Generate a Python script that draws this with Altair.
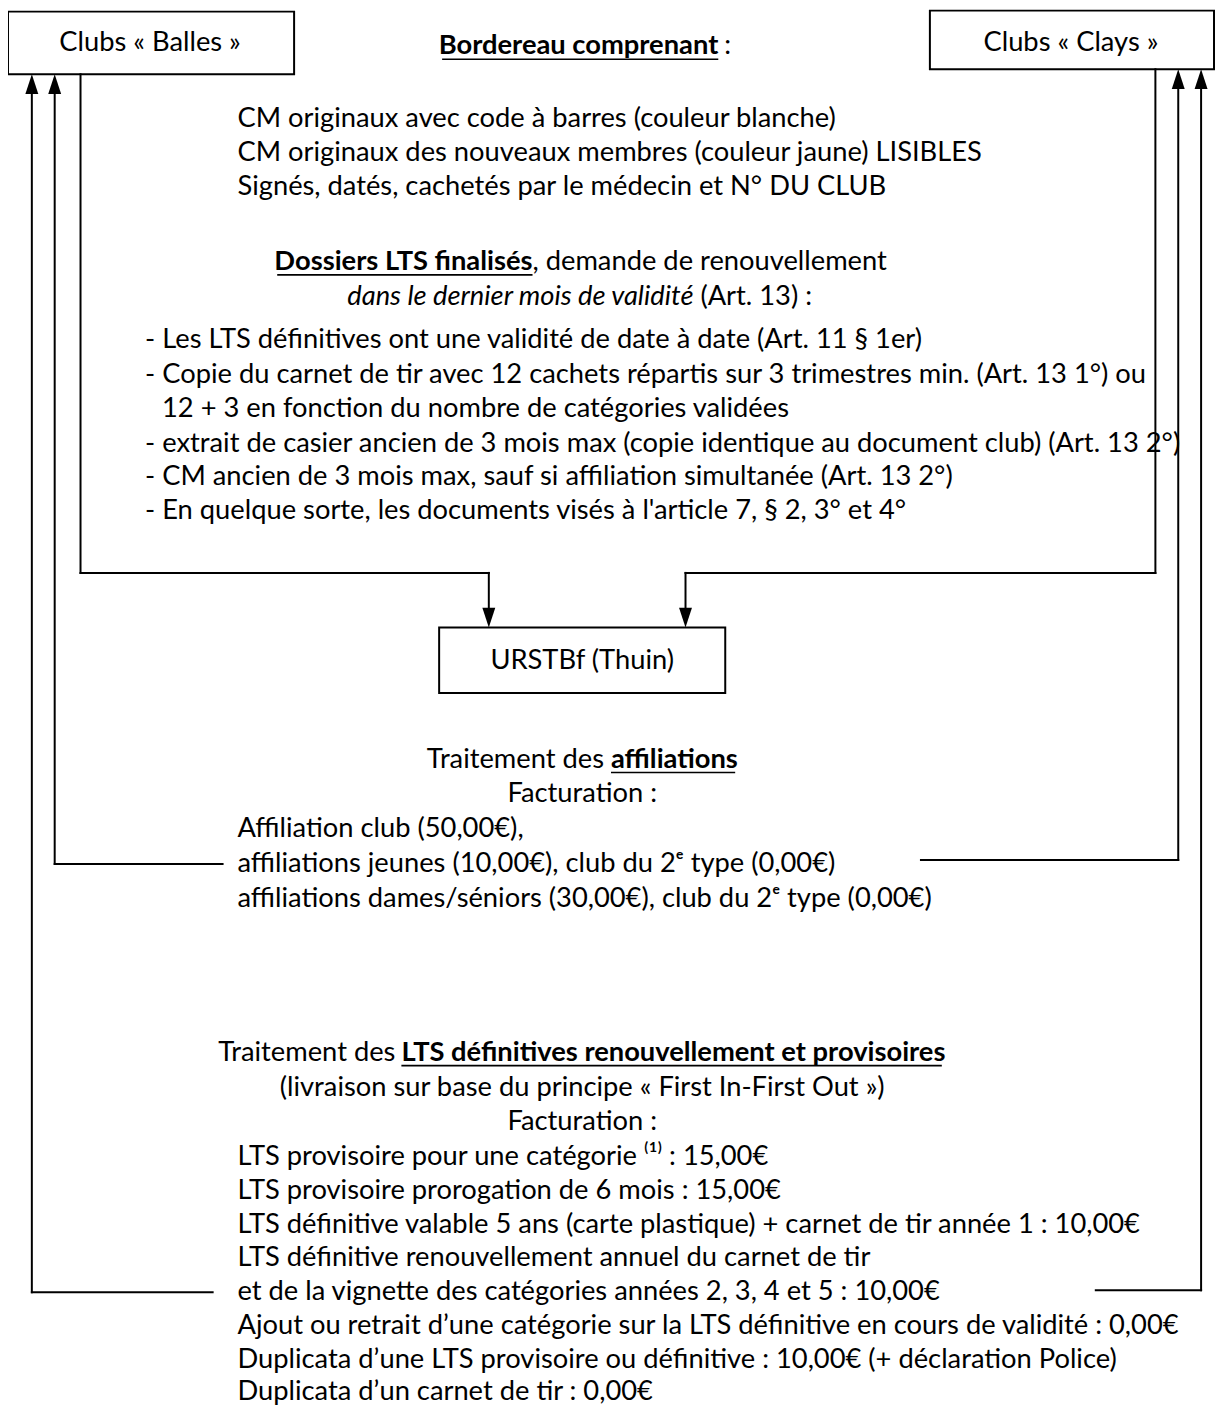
import altair as alt
import pandas as pd

FONT = "Lato"
FS = 27.5

# ---------------- content ----------------
BOX_LABELS = ["Clubs « Balles »", "Clubs « Clays »", "URSTBf (Thuin)"]
BORDEREAU_TITLE = ["Bordereau comprenant", ":"]
CM_LINES = [
    "CM originaux avec code à barres (couleur blanche)",
    "CM originaux des nouveaux membres (couleur jaune) LISIBLES",
    "Signés, datés, cachetés par le médecin et N° DU CLUB",
]
DOSSIERS_TITLE = ["Dossiers LTS finalisés", ", demande de renouvellement"]
DOSSIERS_SUB = ["dans le dernier mois de validité", "(Art. 13) :"]
BULLETS = [
    "- Les LTS définitives ont une validité de date à date (Art. 11 § 1er)",
    "- Copie du carnet de tir avec 12 cachets répartis sur 3 trimestres min. (Art. 13 1°) ou",
    "12 + 3 en fonction du nombre de catégories validées",
    "- extrait de casier ancien de 3 mois max (copie identique au document club) (Art. 13 2°)",
    "- CM ancien de 3 mois max, sauf si affiliation simultanée (Art. 13 2°)",
    "- En quelque sorte, les documents visés à l'article 7, § 2, 3° et 4°",
]
AFF_TITLE = ["Traitement des", "affiliations"]
FACT = "Facturation :"
AFF_LINES = [
    "Affiliation club (50,00€),",
    "affiliations jeunes (10,00€), club du 2ᵉ type (0,00€)",
    "affiliations dames/séniors (30,00€), club du 2ᵉ type (0,00€)",
]
LTS_TITLE = ["Traitement des", "LTS définitives renouvellement et provisoires"]
LTS_SUB = "(livraison sur base du principe « First In-First Out »)"
LTS_LINES = [
    "LTS provisoire pour une catégorie ⁽¹⁾ : 15,00€",
    "LTS provisoire prorogation de 6 mois : 15,00€",
    "LTS définitive valable 5 ans (carte plastique) + carnet de tir année 1 : 10,00€",
    "LTS définitive renouvellement annuel du carnet de tir",
    "et de la vignette des catégories années 2, 3, 4 et 5 : 10,00€",
    "Ajout ou retrait d’une catégorie sur la LTS définitive en cours de validité : 0,00€",
    "Duplicata d’une LTS provisoire ou définitive : 10,00€ (+ déclaration Police)",
    "Duplicata d’un carnet de tir : 0,00€",
]

# ---------------- layout (page pixel coordinates) ----------------
BOX_X0 = [8, 936, 442]
BOX_X1 = [296, 1222, 730]
BOX_Y0 = [7, 6, 627]
BOX_Y1 = [70, 65, 693]
BOX_TX = [151, 1078, 586]
BOX_TY = [47, 47, 669]

CX = 586          # centre of centred lines
LEFT_X = 239      # left indent of listed lines
BULLET_X = 146
CM_Y = [123, 157.5, 192]
BULLET_XS = [BULLET_X, BULLET_X, BULLET_X + 17, BULLET_X, BULLET_X, BULLET_X]
BULLET_Y = [346, 381, 415, 450, 484, 518]
AFF_Y = [838, 873, 908]
LTS_Y = [1168, 1202, 1236, 1270, 1304, 1338, 1372, 1405]

# connector segments: x, y, x2, y2
SEG = [
    (32, 1296, 32, 80), (32, 1296, 214, 1296),
    (55, 865, 55, 80), (55, 865, 224, 865),
    (81, 70, 81, 572), (81, 572, 492, 572), (492, 572, 492, 615),
    (1163, 65, 1163, 572), (1163, 572, 690, 572), (690, 572, 690, 615),
    (1186, 861, 1186, 75), (927, 861, 1186, 861),
    (1209, 1294, 1209, 75), (1103, 1294, 1209, 1294),
]
# arrowheads: x, tip y, direction
ARROWS = [(32, 70, "up"), (55, 70, "up"), (1186, 65, "up"), (1209, 65, "up"),
          (492, 627, "down"), (690, 627, "down")]

# underlines under bold headings: x, x2, y
UNDER = [(445, 723, 55), (279, 536, 272), (615, 740, 773), (404, 948, 1068)]

# ---------------- scales ----------------
W, H = 1215, 1402
xs = alt.Scale(domain=[8, 8 + W], nice=False, zero=False)
ys = alt.Scale(domain=[8, 8 + H], nice=False, zero=False, reverse=True)


def X(f):
    return alt.X(f, type="quantitative", scale=xs, axis=None)


def Y(f):
    return alt.Y(f, type="quantitative", scale=ys, axis=None)


layers = []

# boxes
boxes = pd.DataFrame({"x": BOX_X0, "x2": BOX_X1, "y": BOX_Y0, "y2": BOX_Y1})
layers.append(alt.Chart(boxes).mark_rect(fill="white", stroke="black", strokeWidth=2).encode(
    x=X("x"), x2="x2", y=Y("y"), y2="y2"))

# connectors
seg = pd.DataFrame(SEG, columns=["x", "y", "x2", "y2"])
layers.append(alt.Chart(seg).mark_rule(color="black", strokeWidth=2, strokeCap="square").encode(
    x=X("x"), x2="x2", y=Y("y"), y2="y2"))

# arrowheads
arr = pd.DataFrame(ARROWS, columns=["x", "tip", "dir"])
arr["yc"] = [t + 10 if d == "up" else t - 10 for t, d in zip(arr["tip"], arr["dir"])]
UP = "M0,-1L0.65,1L-0.65,1Z"
DOWN = "M0,1L0.65,-1L-0.65,-1Z"
for d, shp in (("up", UP), ("down", DOWN)):
    layers.append(alt.Chart(arr[arr["dir"] == d]).mark_point(
        shape=shp, filled=True, size=400, opacity=1, color="black", strokeWidth=0).encode(
        x=X("x"), y=Y("yc")))

# underlines
und = pd.DataFrame(UNDER, columns=["x", "x2", "y"])
layers.append(alt.Chart(und).mark_rule(color="black", strokeWidth=1.6).encode(
    x=X("x"), x2="x2", y=Y("y")))

# text
rows = []


def add(t, x, y, weight="normal", style="normal", align="left"):
    rows.append(dict(t=t, x=x, y=y, w=weight, s=style, a=align))


for lab, tx, ty in zip(BOX_LABELS, BOX_TX, BOX_TY):
    add(lab, tx, ty, align="center")
add(BORDEREAU_TITLE[0], 723, 50, weight="bold", align="right")
add(BORDEREAU_TITLE[1], 729, 50)
for t, y in zip(CM_LINES, CM_Y):
    add(t, LEFT_X, y)
add(DOSSIERS_TITLE[0], 536, 267, weight="bold", align="right")
add(DOSSIERS_TITLE[1], 536, 267)
add(DOSSIERS_SUB[0], 698, 302, style="italic", align="right")
add(DOSSIERS_SUB[1], 705, 302)
for t, x, y in zip(BULLETS, BULLET_XS, BULLET_Y):
    add(t, x, y)
add(AFF_TITLE[0], 608, 768, align="right")
add(AFF_TITLE[1], 615, 768, weight="bold")
add(FACT, CX, 803, align="center")
for t, y in zip(AFF_LINES, AFF_Y):
    add(t, LEFT_X, y)
add(LTS_TITLE[0], 398, 1063, align="right")
add(LTS_TITLE[1], 404, 1063, weight="bold")
add(LTS_SUB, CX, 1099, align="center")
add(FACT, CX, 1133, align="center")
for t, y in zip(LTS_LINES, LTS_Y):
    add(t, LEFT_X, y)

txt = pd.DataFrame(rows)
for (w, s, a), g in txt.groupby(["w", "s", "a"]):
    layers.append(alt.Chart(g).mark_text(
        font=FONT, fontSize=FS, fontWeight=w, fontStyle=s, align=a,
        baseline="alphabetic", color="black").encode(
        x=X("x"), y=Y("y"), text="t:N"))

chart = alt.layer(*layers).properties(
    width=W, height=H, padding=0,
    autosize=alt.AutoSizeParams(type="none"),
    background="white",
).configure_view(strokeWidth=0)

chart.save("out.html", embed_options={"renderer": "svg", "actions": False})
